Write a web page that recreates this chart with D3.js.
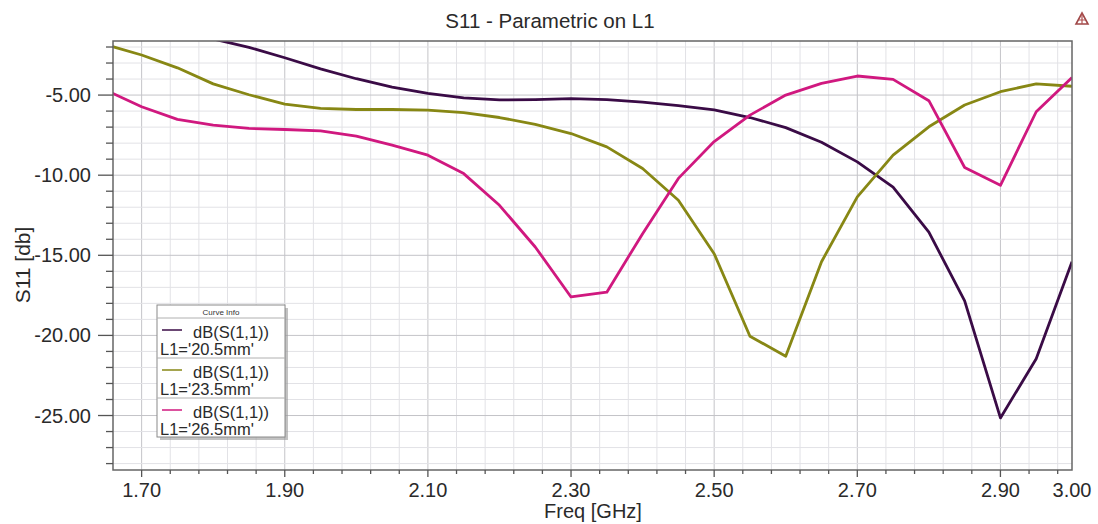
<!DOCTYPE html>
<html>
<head>
<meta charset="utf-8">
<script src="https://cdn.jsdelivr.net/npm/d3@7"></script>
<style>
  html, body { margin: 0; padding: 0; background: #ffffff; }
  svg { display: block; font-family: "Liberation Sans", Arial, sans-serif; }
</style>
</head>
<body>
<svg id="chart" width="1098" height="524"></svg>
<script>
// Frequency sweep points (GHz)
const freqs = [1.65, 1.70, 1.75, 1.80, 1.85, 1.90, 1.95, 2.00, 2.05, 2.10, 2.15, 2.20, 2.25, 2.30,
               2.35, 2.40, 2.45, 2.50, 2.55, 2.60, 2.65, 2.70, 2.75, 2.80, 2.85, 2.90, 2.95, 3.00];

// dB(S(1,1)) for each L1 value
const s11_L1_205 = [-0.60, -0.80, -1.10, -1.50, -2.02, -2.67, -3.36, -3.98, -4.51, -4.90, -5.18, -5.30, -5.28, -5.22,
                    -5.29, -5.44, -5.66, -5.92, -6.40, -7.03, -7.94, -9.17, -10.75, -13.55, -17.85, -25.15, -21.46, -15.40];
const s11_L1_235 = [-1.85, -2.50, -3.30, -4.30, -4.98, -5.56, -5.83, -5.90, -5.90, -5.94, -6.10, -6.40, -6.83, -7.40,
                    -8.23, -9.58, -11.56, -14.90, -20.05, -21.30, -15.40, -11.35, -8.75, -6.98, -5.62, -4.79, -4.30, -4.45];
const s11_L1_265 = [-4.70, -5.73, -6.52, -6.88, -7.08, -7.15, -7.23, -7.56, -8.13, -8.75, -9.90, -11.88, -14.48, -17.60,
                    -17.30, -13.65, -10.20, -7.90, -6.25, -5.00, -4.27, -3.81, -4.02, -5.35, -9.52, -10.63, -6.04, -3.90];

const seriesNames = ["L1='20.5mm'", "L1='23.5mm'", "L1='26.5mm'"];
const seriesColors = ["#3a0b46", "#878714", "#d0187f"];

// Axis ticks
const xMajorTicks = [1.70, 1.90, 2.10, 2.30, 2.50, 2.70, 2.90, 3.00];
const xTickLabels = ["1.70", "1.90", "2.10", "2.30", "2.50", "2.70", "2.90", "3.00"];
const yMajorTicks = [-5, -10, -15, -20, -25];
const yTickLabels = ["-5.00", "-10.00", "-15.00", "-20.00", "-25.00"];

const svg = d3.select("#chart");
const plot = { left: 113, right: 1072, top: 41, bottom: 470 };

const x = d3.scaleLinear().domain([1.66, 3.00]).range([plot.left, plot.right]);
const y = d3.scaleLinear().domain([-28.4, -1.625]).range([plot.bottom, plot.top]);

// Minor grid positions
const xMinor = d3.range(0, 33).map(i => +(1.70 + i * 0.04).toFixed(2)).filter(v => v < 3.0);
const yMinor = d3.range(-28, -1, 1);

// Grid
const grid = svg.append("g");
grid.selectAll("line.vx").data(xMinor).enter().append("line")
  .attr("x1", d => x(d)).attr("x2", d => x(d))
  .attr("y1", plot.top).attr("y2", plot.bottom)
  .attr("stroke", d => xMajorTicks.some(t => Math.abs(t - d) < 1e-6) ? "#c4c4c8" : "#e2e2e6")
  .attr("stroke-width", 1);
grid.selectAll("line.hy").data(yMinor).enter().append("line")
  .attr("x1", plot.left).attr("x2", plot.right)
  .attr("y1", d => y(d)).attr("y2", d => y(d))
  .attr("stroke", d => d % 5 === 0 ? "#c4c4c8" : "#e2e2e6")
  .attr("stroke-width", 1);

// Curves, clipped to the plot area
svg.append("clipPath").attr("id", "plotclip").append("rect")
  .attr("x", plot.left).attr("y", plot.top)
  .attr("width", plot.right - plot.left).attr("height", plot.bottom - plot.top);

const seriesData = [s11_L1_205, s11_L1_235, s11_L1_265];
const line = d3.line().x(d => x(d[0])).y(d => y(d[1]));
const curves = svg.append("g").attr("clip-path", "url(#plotclip)");
seriesData.forEach((vals, i) => {
  curves.append("path")
    .datum(freqs.map((f, k) => [f, vals[k]]))
    .attr("d", line)
    .attr("fill", "none")
    .attr("stroke", seriesColors[i])
    .attr("stroke-width", 2.8)
    .attr("stroke-linejoin", "round");
});

// Frame
svg.append("rect")
  .attr("x", plot.left).attr("y", plot.top)
  .attr("width", plot.right - plot.left).attr("height", plot.bottom - plot.top)
  .attr("fill", "none").attr("stroke", "#666666").attr("stroke-width", 1.5);

// Y axis ticks and labels
const yAxis = svg.append("g");
yAxis.selectAll("line.minor").data(yMinor.filter(d => d % 5 !== 0)).enter().append("line")
  .attr("x1", plot.left - 7).attr("x2", plot.left)
  .attr("y1", d => y(d)).attr("y2", d => y(d))
  .attr("stroke", "#555").attr("stroke-width", 1.3);
yAxis.selectAll("line.major").data(yMajorTicks).enter().append("line")
  .attr("x1", plot.left - 15).attr("x2", plot.left)
  .attr("y1", d => y(d)).attr("y2", d => y(d))
  .attr("stroke", "#555").attr("stroke-width", 1.3);
yAxis.selectAll("text").data(yMajorTicks).enter().append("text")
  .attr("x", 91).attr("y", d => y(d) + 7)
  .attr("text-anchor", "end")
  .attr("font-size", 20).attr("fill", "#2a2a2a")
  .text((d, i) => yTickLabels[i]);

// X axis ticks and labels
const xAxis = svg.append("g");
xAxis.selectAll("line.minor").data(xMinor).enter().append("line")
  .attr("x1", d => x(d)).attr("x2", d => x(d))
  .attr("y1", plot.bottom).attr("y2", d => plot.bottom + (xMajorTicks.some(t => Math.abs(t - d) < 1e-6) ? 7 : 4))
  .attr("stroke", "#555").attr("stroke-width", 1.3);
xAxis.selectAll("text").data(xMajorTicks).enter().append("text")
  .attr("x", d => x(d)).attr("y", 497)
  .attr("text-anchor", "middle")
  .attr("font-size", 20).attr("fill", "#2a2a2a")
  .text((d, i) => xTickLabels[i]);

// Titles
svg.append("text").attr("x", 550).attr("y", 28)
  .attr("text-anchor", "middle").attr("font-size", 20.5).attr("fill", "#2a2a2a")
  .text("S11 - Parametric on L1");
svg.append("text").attr("x", 593).attr("y", 518)
  .attr("text-anchor", "middle").attr("font-size", 20).attr("fill", "#2a2a2a")
  .text("Freq [GHz]");
svg.append("text")
  .attr("transform", "translate(30,265) rotate(-90)")
  .attr("text-anchor", "middle").attr("font-size", 21).attr("fill", "#2a2a2a")
  .text("S11 [db]");

// Small logo mark in the corner
const logo = svg.append("g").attr("transform", "translate(1082,19)");
logo.append("path").attr("d", "M0,-6 L6,5 L-6,5 Z").attr("fill", "none").attr("stroke", "#a04848").attr("stroke-width", 1.6);
logo.append("path").attr("d", "M-3,1 L3,1 M0,-6 L0,5").attr("stroke", "#b05050").attr("stroke-width", 1.2);

// Legend ("Curve Info")
const lg = { x: 157, y: 305, w: 128, h: 132 };
const legend = svg.append("g");
legend.append("rect")
  .attr("x", lg.x + 3).attr("y", lg.y + 3).attr("width", lg.w).attr("height", lg.h)
  .attr("fill", "#9a9a9a").attr("opacity", 0.6);
legend.append("rect")
  .attr("x", lg.x).attr("y", lg.y).attr("width", lg.w).attr("height", lg.h)
  .attr("fill", "#ffffff").attr("stroke", "#8a8a8a").attr("stroke-width", 1);
legend.append("text")
  .attr("x", lg.x + lg.w / 2).attr("y", lg.y + 10)
  .attr("text-anchor", "middle").attr("font-size", 8).attr("fill", "#333")
  .text("Curve Info");
const headerBottom = lg.y + 13;
legend.append("line")
  .attr("x1", lg.x).attr("x2", lg.x + lg.w)
  .attr("y1", headerBottom).attr("y2", headerBottom)
  .attr("stroke", "#b0b0b0");
seriesNames.forEach((name, i) => {
  const top = headerBottom + i * 40;
  if (i > 0) {
    legend.append("line")
      .attr("x1", lg.x).attr("x2", lg.x + lg.w)
      .attr("y1", top).attr("y2", top)
      .attr("stroke", "#b0b0b0");
  }
  legend.append("line")
    .attr("x1", lg.x + 5).attr("x2", lg.x + 25)
    .attr("y1", top + 12).attr("y2", top + 12)
    .attr("stroke", seriesColors[i]).attr("stroke-width", 1.5);
  legend.append("text")
    .attr("x", lg.x + 36).attr("y", top + 20)
    .attr("font-size", 16.5).attr("fill", "#2a2a2a")
    .text("dB(S(1,1))");
  legend.append("text")
    .attr("x", lg.x + 3).attr("y", top + 36.5)
    .attr("font-size", 16.5).attr("fill", "#2a2a2a")
    .text(name);
});
</script>
</body>
</html>
